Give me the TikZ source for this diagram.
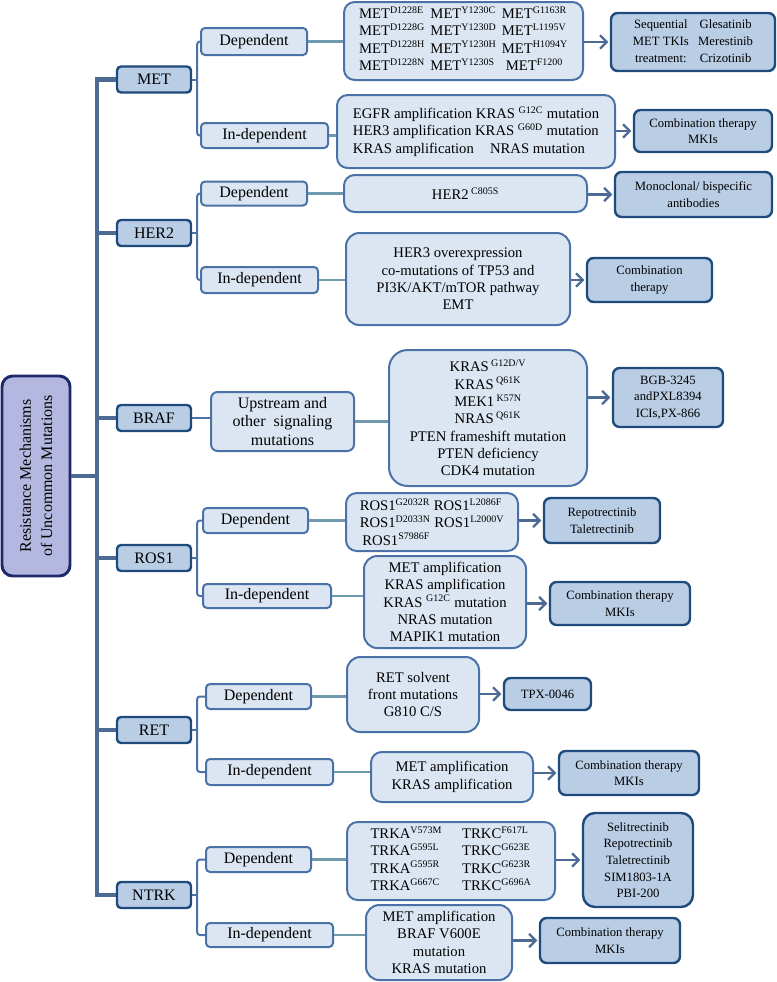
\documentclass[tikz,border=0pt]{standalone}
\usepackage{fontspec}
\setmainfont{Liberation Serif}
\usetikzlibrary{arrows.meta}
\definecolor{rootfill}{HTML}{B4B8E0}
\definecolor{rootdraw}{HTML}{1C2A6B}
\definecolor{catfill}{HTML}{B9CDE5}
\definecolor{catdraw}{HTML}{1F4A7C}
\definecolor{lightfill}{HTML}{DCE6F2}
\definecolor{lightdraw}{HTML}{4A72A8}
\definecolor{trunkc}{HTML}{4D6A95}
\definecolor{linkc}{HTML}{6F9AAE}
\newcommand{\spx}[1]{\textsuperscript{\fontsize{7.5}{8}\selectfont #1}}
\tikzset{
 base/.style={inner sep=0pt, align=center, text=black},
 rootbox/.style={base, draw=rootdraw, fill=rootfill, line width=2.2pt, rounded corners=8pt, font=\fontsize{12}{16}\selectfont},
 catbox/.style={base, draw=catdraw, fill=catfill, line width=1.8pt, rounded corners=3pt, minimum width=55.5pt, minimum height=19.5pt, font=\fontsize{12}{14}\selectfont},
 depbox/.style={base, draw=lightdraw, fill=lightfill, line width=1.5pt, rounded corners=3pt, font=\fontsize{12}{14}\selectfont},
 mutbox/.style={base, draw=lightdraw, fill=lightfill, line width=1.5pt, rounded corners=8pt, font=\fontsize{11}{13}\selectfont},
 rxbox/.style={base, draw=catdraw, fill=catfill, line width=1.8pt, rounded corners=5pt, font=\fontsize{9.5}{12.5}\selectfont},
 trunk/.style={draw=trunkc, line width=3.5pt},
 brk/.style={draw=lightdraw, line width=1.5pt, rounded corners=2pt},
 link/.style={draw=linkc, line width=1.8pt},
 arr/.style={draw=trunkc, line width=1.8pt, shorten >=1pt, -{Straight Barb[length=5pt,width=10pt]}},
}
\begin{document}
\begin{tikzpicture}[x=0.75pt,y=-0.75pt]
\fill[white] (0,0) rectangle (777,982);
\useasboundingbox (0,0) rectangle (777,982);

% root
\node[rootbox, rotate=90, minimum width=150pt, minimum height=51pt] (root) at (36,476) {Resistance Mechanisms\\of Uncommon Mutations};

% categories
\node[catbox] (metcat) at (154,79.5) {MET};
\node[catbox] (hercat) at (154,233) {HER2};
\node[catbox] (brafcat) at (154,418) {BRAF};
\node[catbox] (roscat) at (154,558) {ROS1};
\node[catbox] (retcat) at (154,730) {RET};
\node[catbox] (ntrkcat) at (154,895) {NTRK};

% trunk
\coordinate (tk) at (97,0);
\draw[trunk] (metcat.west) -| (tk |- ntrkcat.west) -- (ntrkcat.west);
\foreach \n in {hercat,brafcat,roscat,retcat} \draw[trunk] (\n.west) -- (tk |- \n.west);
\draw[trunk] (root.south) -- (tk |- root.south);

% level 2
\node[depbox, minimum width=79.5pt, minimum height=20.25pt] (metdep) at (254,41.5) {Dependent};
\node[depbox, minimum width=95.25pt, minimum height=18.75pt] (metind) at (264.5,135.5) {In-dependent};
\node[depbox, minimum width=79.5pt, minimum height=18pt] (herdep) at (254,193.5) {Dependent};
\node[depbox, minimum width=87.75pt, minimum height=19.5pt] (herind) at (259.5,280) {In-dependent};
\node[depbox, minimum width=107.25pt, minimum height=44.25pt, rounded corners=5pt] (brafup) at (282.5,421.5) {Upstream and\\other\ \ signaling\\mutations};
\node[depbox, minimum width=78.75pt, minimum height=18.75pt] (rosdep) at (255.5,520.5) {Dependent};
\node[depbox, minimum width=96pt, minimum height=18pt] (rosind) at (267,596) {In-dependent};
\node[depbox, minimum width=78.75pt, minimum height=18.75pt] (retdep) at (258.5,696.5) {Dependent};
\node[depbox, minimum width=95.25pt, minimum height=19.5pt] (retind) at (269.5,772) {In-dependent};
\node[depbox, minimum width=78.75pt, minimum height=18.75pt] (ntrkdep) at (258.5,859.5) {Dependent};
\node[depbox, minimum width=95.25pt, minimum height=18pt] (ntrkind) at (269.5,935) {In-dependent};

% brackets
\foreach \c/\d/\i in {metcat/metdep/metind, hercat/herdep/herind, roscat/rosdep/rosind, retcat/retdep/retind, ntrkcat/ntrkdep/ntrkind}{
  \draw[brk] (\d.west) -| ([xshift=3.75pt]\c.east) |- (\i.west);
  \draw[brk] (\c.east) -- ([xshift=3.75pt]\c.east);
}
\draw[brk] (brafcat.east) -- (brafcat.east -| brafup.west);

% mutation boxes
\node[mutbox, minimum width=179.25pt, minimum height=58.5pt] (metdm) at (463.5,41) {%
\begin{tabular}{@{}l@{\hspace{4pt}}l@{\hspace{4pt}}l@{}}
MET\spx{D1228E} & MET\spx{Y1230C} & MET\spx{G1163R}\\
MET\spx{D1228G} & MET\spx{Y1230D} & MET\spx{L1195V}\\
MET\spx{D1228H} & MET\spx{Y1230H} & MET\spx{H1094Y}\\
MET\spx{D1228N} & MET\spx{Y1230S} & \hspace{3pt}MET\spx{F1200}
\end{tabular}};
\node[mutbox, minimum width=208.5pt, minimum height=54.75pt, align=left] (metim) at (476,131.5) {EGFR amplification KRAS \spx{G12C} mutation\\HER3 amplification KRAS \spx{G60D} mutation\\KRAS amplification\hspace{1.1em}NRAS mutation};
\node[mutbox, minimum width=182.25pt, minimum height=27.75pt] (herdm) at (465.5,193.5) {HER2\,\spx{C805S}};
\node[mutbox, minimum width=168pt, minimum height=69pt, rounded corners=10pt] (herim) at (458,279) {HER3 overexpression\\co-mutations of TP53 and\\PI3K/AKT/mTOR pathway\\EMT};
\node[mutbox, minimum width=148.5pt, minimum height=102pt, rounded corners=14pt] (brafm) at (488,418) {KRAS\,\spx{G12D/V}\\KRAS\,\spx{Q61K}\\MEK1\,\spx{K57N}\\NRAS\,\spx{Q61K}\\PTEN frameshift mutation\\PTEN deficiency\\CDK4 mutation};
\node[mutbox, minimum width=129pt, minimum height=43.5pt, align=left] (rosdm) at (432,522) {ROS1\spx{G2032R} ROS1\spx{L2086F}\\ROS1\spx{D2033N} ROS1\spx{L2000V}\\\hspace{2pt}ROS1\spx{S7986F}};
\node[mutbox, minimum width=121.5pt, minimum height=69pt, rounded corners=10pt] (rosim) at (445,602) {MET amplification\\KRAS amplification\\KRAS \spx{G12C} mutation\\NRAS mutation\\MAPIK1 mutation};
\node[mutbox, minimum width=99pt, minimum height=56.25pt, rounded corners=10pt] (retdm) at (413,694.5) {RET solvent\\front mutations\\G810 C/S};
\node[mutbox, minimum width=121.5pt, minimum height=37.5pt] (retim) at (452,777) {MET amplification\\KRAS amplification};
\node[mutbox, minimum width=156pt, minimum height=58.5pt] (ntrkdm) at (451,861) {%
\begin{tabular}{@{}l@{\hspace{15pt}}l@{}}
TRKA\spx{V573M} & TRKC\spx{F617L}\\
TRKA\spx{G595L} & TRKC\spx{G623E}\\
TRKA\spx{G595R} & TRKC\spx{G623R}\\
TRKA\spx{G667C} & TRKC\spx{G696A}
\end{tabular}};
\node[mutbox, minimum width=109.5pt, minimum height=56.25pt, rounded corners=10pt] (ntrkim) at (439,942.5) {MET amplification\\BRAF V600E\\mutation\\KRAS mutation};

% links
\foreach \a/\b in {metdep/metdm, metind/metim, herdep/herdm, herind/herim, brafup/brafm, rosdep/rosdm, rosind/rosim, retdep/retdm, retind/retim, ntrkdep/ntrkdm, ntrkind/ntrkim}
  \draw[link] (\a.east) -- (\a.east -| \b.west);

% treatment boxes
\node[rxbox, minimum width=123pt, minimum height=43.5pt] (metrx1) at (693,42) {%
\begin{tabular}{@{}c@{\hspace{7pt}}c@{}}
Sequential & Glesatinib\\
MET TKIs & Merestinib\\
treatment: & Crizotinib
\end{tabular}};
\node[rxbox, minimum width=103.5pt, minimum height=31.5pt] (metrx2) at (703,131) {Combination therapy\\MKIs};
\node[rxbox, minimum width=117.75pt, minimum height=33.75pt] (herrx1) at (693.5,194.5) {Monoclonal/ bispecific\\antibodies};
\node[rxbox, minimum width=93.75pt, minimum height=33pt] (herrx2) at (649.5,280) {Combination\\therapy};
\node[rxbox, minimum width=82.5pt, minimum height=44.25pt] (brafrx) at (668,397.5) {BGB-3245\\andPXL8394\\ICIs,PX-866};
\node[rxbox, minimum width=87pt, minimum height=33.75pt] (rosrx1) at (602,520.5) {Repotrectinib\\Taletrectinib};
\node[rxbox, minimum width=105pt, minimum height=32.25pt] (rosrx2) at (620,603.5) {Combination therapy\\MKIs};
\node[rxbox, minimum width=65.25pt, minimum height=24pt] (retrx1) at (547.5,694) {TPX-0046};
\node[rxbox, minimum width=105pt, minimum height=33pt] (retrx2) at (629,773) {Combination therapy\\MKIs};
\node[rxbox, minimum width=82.5pt, minimum height=70.5pt, rounded corners=9pt] (ntrkrx1) at (638,860) {Selitrectinib\\Repotrectinib\\Taletrectinib\\SIM1803-1A\\PBI-200};
\node[rxbox, minimum width=105pt, minimum height=33.75pt] (ntrkrx2) at (610,940.5) {Combination therapy\\MKIs};

% arrows
\foreach \m/\r in {metdm/metrx1, metim/metrx2, herdm/herrx1, herim/herrx2, brafm/brafrx, rosdm/rosrx1, rosim/rosrx2, retdm/retrx1, retim/retrx2, ntrkdm/ntrkrx1, ntrkim/ntrkrx2}
  \draw[arr] (\r.west -| \m.east) -- (\r.west);
\end{tikzpicture}
\end{document}
